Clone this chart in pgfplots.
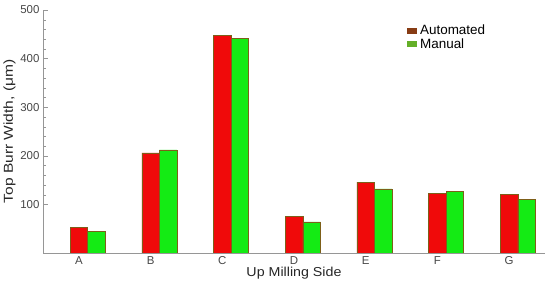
\documentclass[border=0pt]{standalone}
\usepackage{fontspec}
\setmainfont{Liberation Sans}
\usepackage{graphicx}
\usepackage{pgfplots}
\pgfplotsset{compat=1.18}
\definecolor{autobar}{RGB}{240,10,10}
\definecolor{manbar}{RGB}{20,235,20}
\definecolor{edge}{RGB}{125,95,25}
\definecolor{autoleg}{RGB}{135,60,20}
\definecolor{manleg}{RGB}{100,175,40}
\definecolor{axgray}{RGB}{150,150,150}

\begin{document}
\begin{tikzpicture}
\begin{axis}[
scale only axis,
width=502bp, height=243bp,
xmin=-0.5, xmax=6.5,
ymin=0, ymax=500,
axis lines=left,
axis line style={axgray, -},
xtick={0,1,2,3,4,5,6},
xticklabels={A,B,C,D,E,F,G},
ytick={100,200,300,400,500},
minor y tick num=4,
x tick style={draw=none},
y tick style={axgray},
tick align=inside,
major tick length=5bp,
minor tick length=3bp,
/pgf/number format/assume math mode=true,
ticklabel style={font=\fontsize{11.5}{13}\selectfont, text=black!72},
ylabel={\scalebox{1.2}[1]{Top Burr Width, (μm)}},
xlabel={\scalebox{1.1}[1]{Up Milling Side}},
label style={font=\fontsize{13}{15}\selectfont, text=black!85},
ylabel style={yshift=-2bp},
xlabel style={yshift=4bp},
legend style={draw=none, fill=none, at={(0.718,0.955)}, anchor=north west,
  font=\fontsize{13.5}{15}\selectfont, row sep=-2bp, column sep=2bp},
legend cell align=left,
]
\addplot[ybar, bar width=17.5bp, bar shift=0bp, fill=autobar, draw=edge, line width=0.5pt,
  legend image code/.code={\fill[autoleg] (0bp,-2.5bp) rectangle (9bp,2.5bp);}]
coordinates {(0,52) (1,206) (2,448) (3,76) (4,146) (5,123) (6,121)};
\addplot[ybar, bar width=17.5bp, bar shift=17.5bp, fill=manbar, draw=edge, line width=0.5pt,
  legend image code/.code={\fill[manleg] (0bp,-2.5bp) rectangle (9bp,2.5bp);}]
coordinates {(0,45) (1,212) (2,441) (3,64) (4,132) (5,127) (6,111)};
\legend{Automated,Manual}
\end{axis}
\pgfresetboundingbox
\path ([xshift=-43bp,yshift=-31bp]current axis.south west) rectangle ([xshift=5bp,yshift=10bp]current axis.north east);
\end{tikzpicture}
\end{document}
